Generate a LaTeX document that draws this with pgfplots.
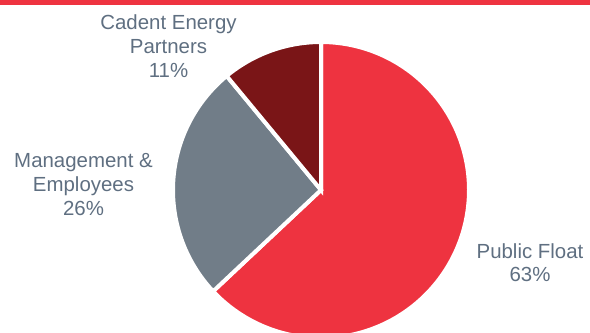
\documentclass[border=0pt]{standalone}
\usepackage{fontspec}
\setmainfont{Liberation Sans}
\usepackage{pgfplots}
\pgfplotsset{compat=1.18}
\definecolor{pubred}{HTML}{EE3340}
\definecolor{cadred}{HTML}{7A1517}
\definecolor{mgmtgrey}{HTML}{717D88}
\definecolor{txt}{HTML}{5F6F81}
\begin{document}
\begin{tikzpicture}
% shares in percent
\pgfmathsetmacro{\vPub}{63}
\pgfmathsetmacro{\vMgmt}{26}
\pgfmathsetmacro{\vCad}{11}
\pgfmathsetmacro{\aCad}{90+\vCad*3.6}
\pgfmathsetmacro{\aMgmt}{\aCad+\vMgmt*3.6}
\pgfmathsetmacro{\aPub}{90-\vPub*3.6}
\begin{axis}[
  width=590bp, height=332bp, scale only axis,
  hide axis, xmin=0, xmax=590, ymin=0, ymax=332,
  clip=true,
]
\addplot[draw=none, fill=pubred] coordinates {(0,326.5) (590,326.5) (590,332) (0,332)} -- cycle;
\addplot[draw=white, line width=4bp, fill=pubred, domain=\aPub:90, samples=160, variable=\t]
  ({321+148*cos(\t)},{142+148*sin(\t)}) -- (axis cs:321,142) -- cycle;
\addplot[draw=white, line width=4bp, fill=mgmtgrey, domain=\aCad:\aMgmt, samples=80, variable=\t]
  ({321+148*cos(\t)},{142+148*sin(\t)}) -- (axis cs:321,142) -- cycle;
\addplot[draw=white, line width=4bp, fill=cadred, domain=90:\aCad, samples=40, variable=\t]
  ({321+148*cos(\t)},{142+148*sin(\t)}) -- (axis cs:321,142) -- cycle;
\end{axis}
\begin{axis}[
  width=590bp, height=332bp, scale only axis,
  hide axis, xmin=0, xmax=590, ymin=0, ymax=332, clip=false,
]
\node[align=center, anchor=north, inner sep=0pt, text=txt, font=\fontsize{20.5}{24}\selectfont] at (axis cs:168.5,317) {Cadent Energy\\Partners\\11\%};
\node[align=center, anchor=north, inner sep=0pt, text=txt, font=\fontsize{20.5}{24}\selectfont] at (axis cs:83.5,179) {Management \&\\Employees\\26\%};
\node[align=center, anchor=north, inner sep=0pt, text=txt, font=\fontsize{20.5}{24}\selectfont] at (axis cs:530,89) {Public Float\\63\%};
\end{axis}
\end{tikzpicture}
\end{document}
